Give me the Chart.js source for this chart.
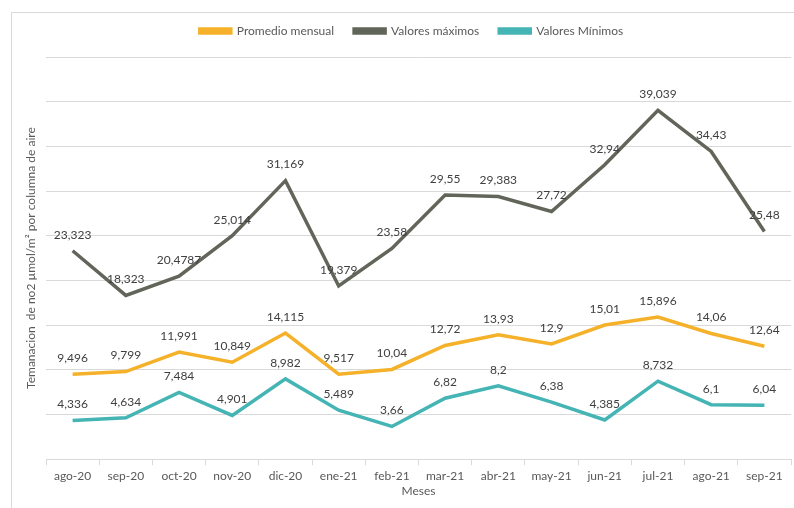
<!DOCTYPE html>
<html>
<head>
<meta charset="utf-8">
<script src="https://cdn.jsdelivr.net/npm/chart.js@4"></script>
<style>
  body { margin: 0; background: #fff; }
</style>
</head>
<body>
<canvas id="myChart" width="794" height="508"></canvas>
<script>
const months = ["ago-20", "sep-20", "oct-20", "nov-20", "dic-20", "ene-21", "feb-21",
  "mar-21", "abr-21", "may-21", "jun-21", "jul-21", "ago-21", "sep-21"];
const promedio = [9.496, 9.799, 11.991, 10.849, 14.115, 9.517, 10.04, 12.72, 13.93, 12.9, 15.01, 15.896, 14.06, 12.64];
const maximos = [23.323, 18.323, 20.4787, 25.014, 31.169, 19.379, 23.58, 29.55, 29.383, 27.72, 32.94, 39.039, 34.43, 25.48];
const minimos = [4.336, 4.634, 7.484, 4.901, 8.982, 5.489, 3.66, 6.82, 8.2, 6.38, 4.385, 8.732, 6.1, 6.04];

const fontName = "Lato, 'DejaVu Sans', sans-serif";

// draws the values above each point, comma as decimal sign
const valueLabels = {
  id: "valueLabels",
  afterDatasetsDraw(chart) {
    const ctx = chart.ctx;
    ctx.save();
    ctx.font = "12px " + fontName;
    ctx.fillStyle = "#404040";
    ctx.textAlign = "center";
    ctx.textBaseline = "middle";
    chart.data.datasets.forEach((ds, i) => {
      const meta = chart.getDatasetMeta(i);
      meta.data.forEach((pt, j) => {
        ctx.fillText(String(ds.data[j]).replace(".", ","), pt.x, pt.y - 16);
      });
    });
    ctx.restore();
  }
};

// light frame round the chart, and legend nudged like the original
const frame = {
  id: "frame",
  afterLayout(chart) {
    const lg = chart.legend;
    lg.top -= 10; lg.bottom -= 10;
    lg.left += 16; lg.right += 16;
  },
  beforeDraw(chart) {
    const ctx = chart.ctx;
    ctx.save();
    ctx.strokeStyle = "#d9d9d9";
    ctx.lineWidth = 1;
    ctx.strokeRect(11.5, 12.5, chart.width, chart.height);
    ctx.restore();
  }
};

new Chart(document.getElementById("myChart"), {
  type: "line",
  data: {
    labels: months,
    datasets: [
      {
        label: "Promedio mensual",
        data: promedio,
        borderColor: "#F5B12A",
        backgroundColor: "#F5B12A",
        borderWidth: 3.5,
        radius: 0,
      },
      {
        label: "Valores máximos",
        data: maximos,
        borderColor: "#62665A",
        backgroundColor: "#62665A",
        borderWidth: 3.5,
        radius: 0,
      },
      {
        label: "Valores Mínimos",
        data: minimos,
        borderColor: "#45B4B4",
        backgroundColor: "#45B4B4",
        borderWidth: 3.5,
        radius: 0,
      },
    ],
  },
  options: {
    responsive: false,
    animation: false,
    layout: { padding: { top: 15, right: 3, bottom: 10, left: 0 } },
    plugins: {
      legend: {
        position: "top",
        labels: {
          boxWidth: 31,
          boxHeight: 4,
          padding: 20,
          color: "#595959",
          font: { family: fontName, size: 12 },
        },
      },
      tooltip: { enabled: false },
    },
    scales: {
      x: {
        offset: true,
        grid: {
          offset: true,
          drawOnChartArea: false,
          drawTicks: true,
          tickLength: 6,
          color: "#d9d9d9",
        },
        border: { color: "#d9d9d9" },
        ticks: { color: "#595959", font: { family: fontName, size: 12 }, padding: 4, maxRotation: 0 },
        title: {
          display: true,
          text: "Meses",
          color: "#595959",
          font: { family: fontName, size: 12 },
          padding: { top: -4, bottom: 0 },
        },
      },
      y: {
        min: 0,
        max: 45,
        ticks: { display: false, stepSize: 5 },
        grid: { color: "#d9d9d9", drawTicks: false },
        border: { display: false },
        title: {
          display: true,
          text: "Temanacion  de no2 µmol/m² por columna de aire",
          color: "#595959",
          font: { family: fontName, size: 12 },
          padding: { top: 24, bottom: 8 },
        },
        afterFit(scale) { scale.width = 46; },
      },
    },
  },
  plugins: [valueLabels, frame],
});
</script>
</body>
</html>
